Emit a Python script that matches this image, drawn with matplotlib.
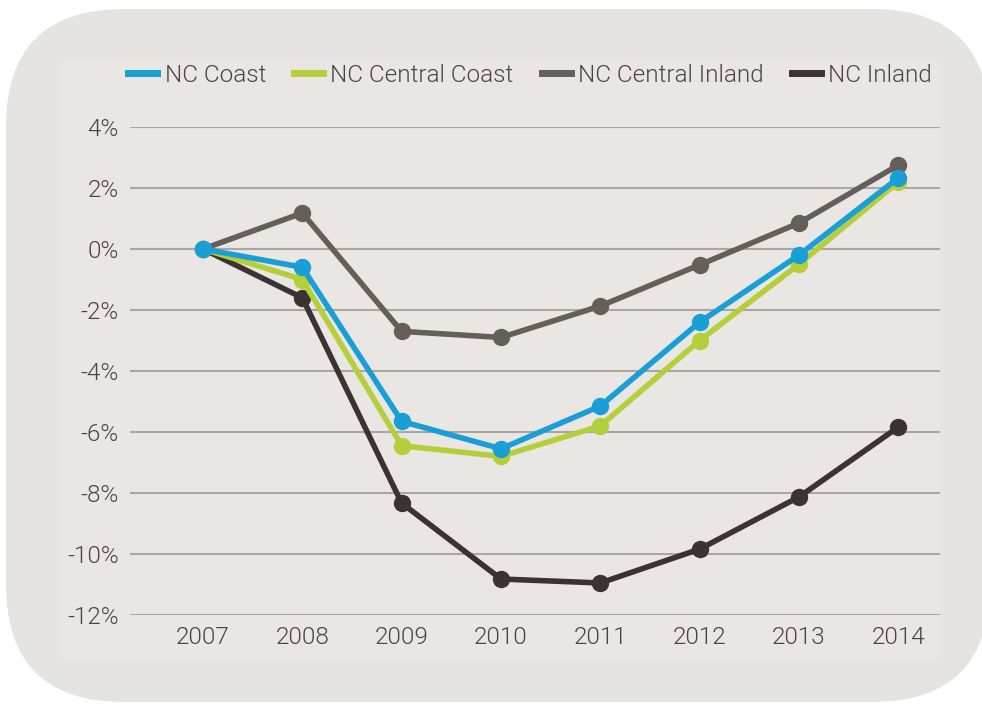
import numpy as np
import matplotlib.pyplot as plt
from matplotlib.patches import FancyBboxPatch, Rectangle
from matplotlib.lines import Line2D
from matplotlib.ticker import FuncFormatter

# yearly change by region (%)
years = ['2007', '2008', '2009', '2010', '2011', '2012', '2013', '2014']
nc_coast = [0.0, -0.6, -5.65, -6.55, -5.15, -2.4, -0.2, 2.33]
nc_central_coast = [0.0, -1.0, -6.45, -6.8, -5.8, -3.0, -0.5, 2.2]
nc_central_inland = [0.0, 1.18, -2.7, -2.9, -1.87, -0.52, 0.85, 2.75]
nc_inland = [0.0, -1.6, -8.33, -10.82, -10.95, -9.84, -8.13, -5.84]

series = [
    ('NC Coast', nc_coast, '#1a9ed6'),
    ('NC Central Coast', nc_central_coast, '#b4cf39'),
    ('NC Central Inland', nc_central_inland, '#655e5b'),
    ('NC Inland', nc_inland, '#393431'),
]

W, H = 982, 705
plt.rcParams['font.family'] = ['Roboto', 'DejaVu Sans']
plt.rcParams['font.weight'] = 300
txt_color = '#4a4542'
fs = 17.5

fig = plt.figure(figsize=(W / 100, H / 100), dpi=100, facecolor='white')

# background card and inner panel, in pixel units
bg = fig.add_axes([0, 0, 1, 1])
bg.set_xlim(0, W)
bg.set_ylim(H, 0)
bg.axis('off')
bg.add_patch(FancyBboxPatch((6, 9), 984, 693, boxstyle='round,pad=0,rounding_size=118',
                            facecolor='#e5e4e2', edgecolor='none'))
bg.add_patch(Rectangle((60, 60), 880, 598, facecolor='#eae6e3', edgecolor='none'))

# plot area: x 130..940 px, y 127..615 px
ax = fig.add_axes([130 / W, 1 - 615 / H, 810 / W, 488 / H])
ax.set_facecolor('none')
x = np.arange(len(years))

for i, (name, vals, col) in reversed(list(enumerate(series))):
    ax.plot(x, vals, color=col, lw=4, marker='o', markersize=11.5,
            label=name, zorder=10 - i, clip_on=False, solid_joinstyle='round')

ax.set_xlim(-0.735, 7.42)
ax.set_ylim(-12, 4)
ax.set_yticks(np.arange(-12, 5, 2))
ax.yaxis.set_major_formatter(FuncFormatter(lambda v, p: f'{v:.0f}%'))
ax.set_xticks(x)
ax.set_xticklabels(years)
ax.grid(axis='y', color='#aba6a2', lw=1.5)
ax.set_axisbelow(True)
for s in ax.spines.values():
    s.set_visible(False)
ax.tick_params(length=0, labelsize=fs, labelcolor=txt_color)
ax.tick_params(axis='y', pad=8)
ax.tick_params(axis='x', pad=8)

handles = [Line2D([], [], color=col, lw=5) for _, _, col in series]
labels = [name for name, _, _ in series]
leg = fig.legend(handles, labels, loc='center', ncol=4, bbox_to_anchor=(530 / W, 1 - 75 / H),
                 frameon=False, fontsize=fs, handlelength=1.2, handletextpad=0.3,
                 columnspacing=1.15, labelcolor=txt_color)

fig.savefig('out.png', dpi=100, facecolor='white')
